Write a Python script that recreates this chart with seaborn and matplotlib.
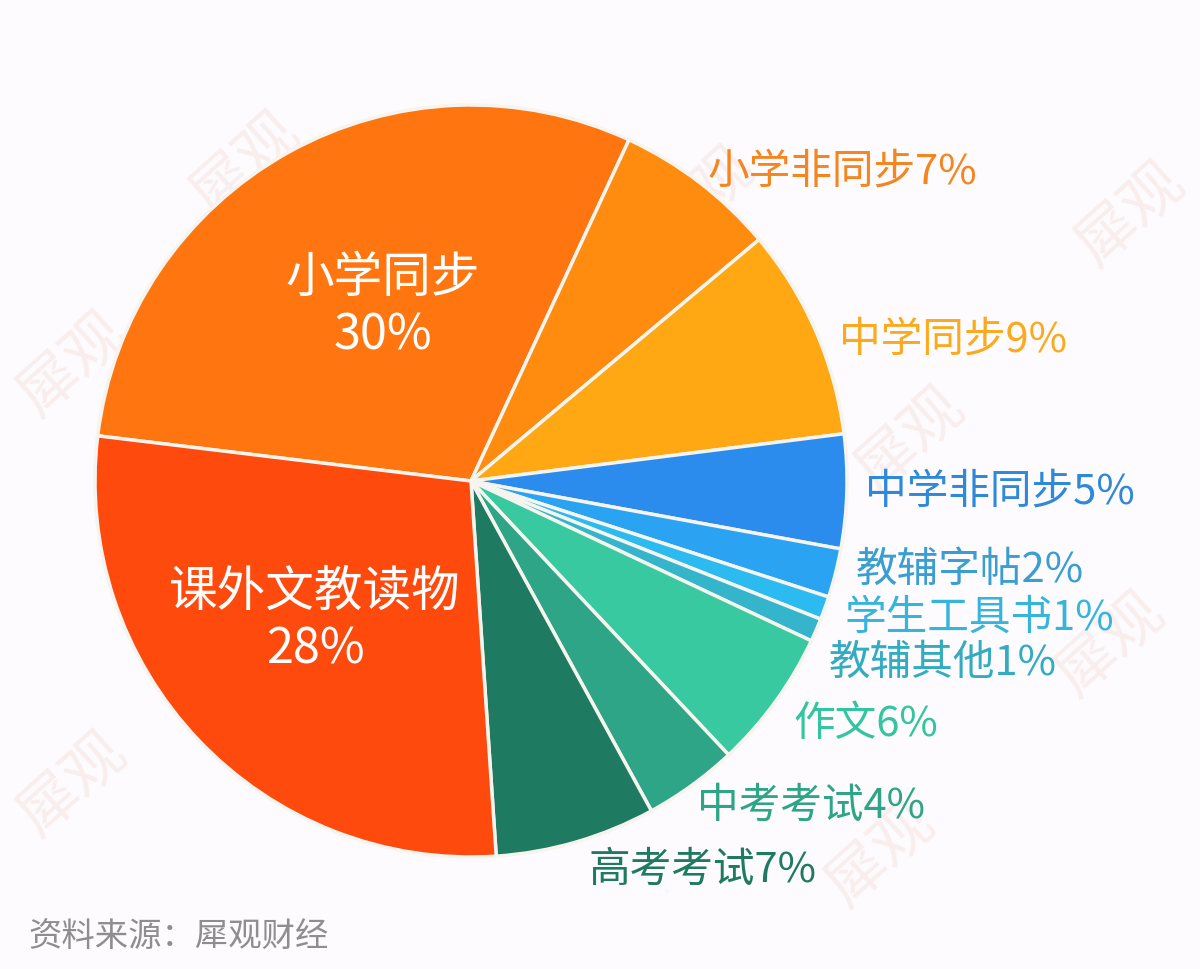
import matplotlib
matplotlib.use("Agg")
import matplotlib.pyplot as plt
import seaborn as sns

sns.set_theme(style="white")
plt.rcParams['font.family'] = ['Noto Sans CJK SC', 'DejaVu Sans']

categories = ["小学同步", "小学非同步", "中学同步", "中学非同步", "教辅字帖", "学生工具书",
              "教辅其他", "作文", "中考考试", "高考考试", "课外文教读物"]
shares = [30.0, 7.0, 9.1, 4.9, 2.1, 1.0, 1.0, 6.0, 4.05, 6.9, 28.0]
labels = ["小学同步\n30%", "小学非同步7%", "中学同步9%", "中学非同步5%", "教辅字帖2%", "学生工具书1%",
          "教辅其他1%", "作文6%", "中考考试4%", "高考考试7%", "课外文教读物\n28%"]
colors = ["#FF7510", "#FF8C0E", "#FFA813", "#2B8CEE", "#2AA3F3", "#2BBBF0",
          "#35B5CC", "#38C9A0", "#2EA586", "#1F7A62", "#FF4A0E"]
label_colors = ["#FFFFFF", "#F5851F", "#FBA91E", "#2F88D8", "#3A9FD0", "#35B4DC",
                "#33ABC0", "#33C4A0", "#2EA586", "#1F7A62", "#FFFFFF"]
label_xy = [(383, 307), (842, 172), (953, 340), (1000, 492), (970, 570), (979, 618),
            (943, 663), (866, 725), (811, 806), (702, 870), (315, 621)]
mark_xy = [(245, 165), (700, 200), (1130, 215), (72, 365), (458, 382), (910, 440),
           (1110, 645), (72, 785), (880, 855)]

W, H = 1200, 970
fig = plt.figure(figsize=(W / 100, H / 100), dpi=100, facecolor="#FDFBFD")
ax = fig.add_axes([0, 0, 1, 1])

for x, y in mark_xy:
    ax.text(x, H - y, "犀观", color="#F9EEEE", fontsize=44, rotation=42,
            ha="center", va="center", zorder=0)

wedges, _ = ax.pie(shares, colors=colors, startangle=173.1, counterclock=False,
                   center=(471, H - 482), radius=376, frame=True,
                   wedgeprops=dict(edgecolor="#F6F4EE", linewidth=2.5, zorder=1))
ax.set_xlim(0, W)
ax.set_ylim(0, H)
ax.set_aspect("equal")
ax.axis("off")

for text, (x, y), c in zip(labels, label_xy, label_colors):
    big = c == "#FFFFFF"
    ax.text(x, H - y, text, color=c, ha="center", va="center",
            fontsize=35 if big else 30, linespacing=1.2, zorder=3)

ax.text(28, H - 937, "资料来源：犀观财经", color="#8E8E8E", fontsize=24,
        ha="left", va="center", zorder=3)
fig.savefig("out.png", dpi=100, facecolor=fig.get_facecolor())
